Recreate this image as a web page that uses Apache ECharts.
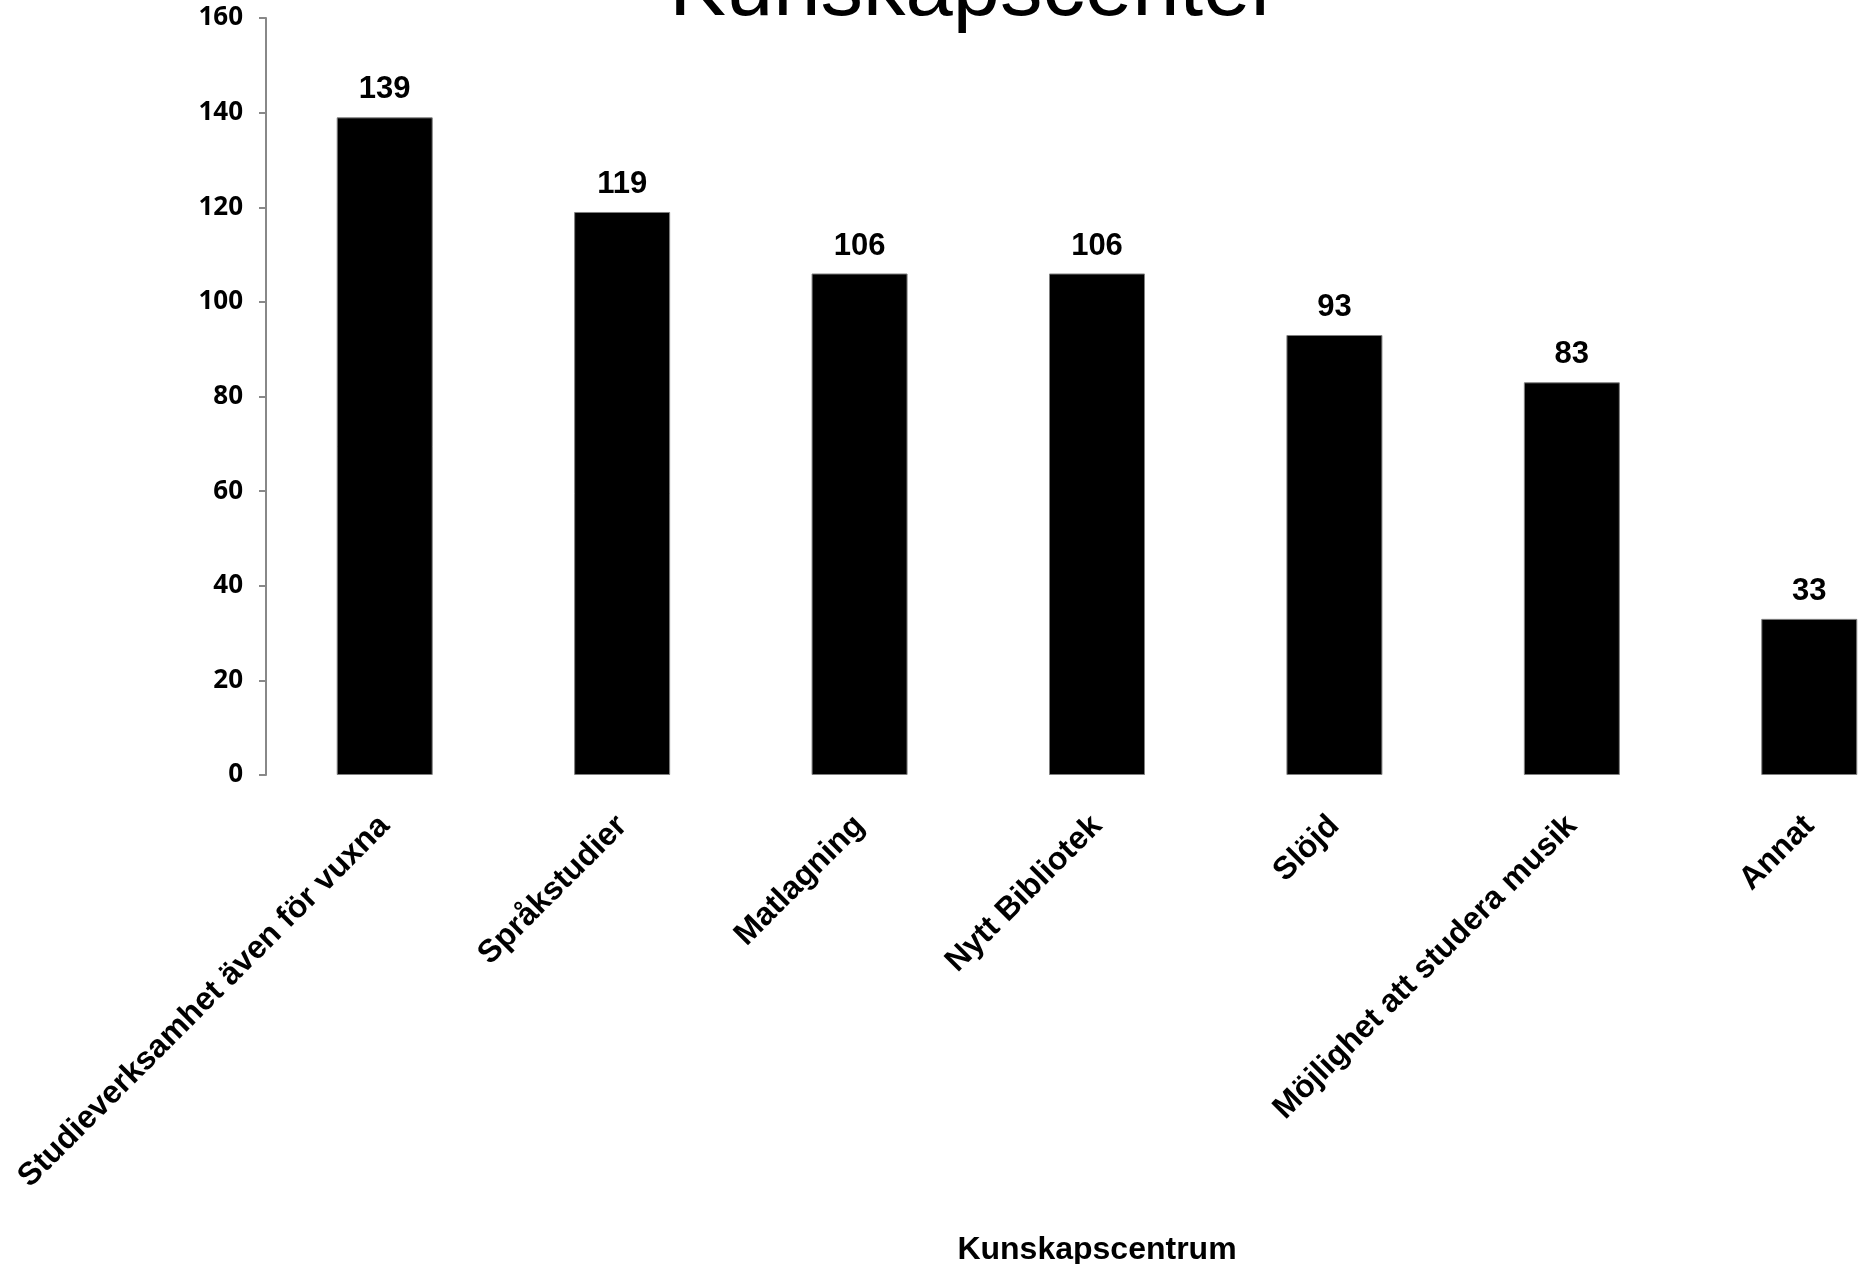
<!DOCTYPE html>
<html><head><meta charset="utf-8">
<script src="https://cdn.jsdelivr.net/npm/echarts@6/dist/echarts.min.js"></script>
<style>html,body{margin:0;padding:0;background:#fff;overflow:hidden}#c{width:1858px;height:1264px}</style>
</head><body><div id="c"></div>
<script>
const titleText = 'Kunskapscenter';
const xAxisName = 'Kunskapscentrum';
const categories = ['Studieverksamhet även för vuxna', 'Språkstudier', 'Matlagning', 'Nytt Bibliotek', 'Slöjd', 'Möjlighet att studera musik', 'Annat'];
const values = [139, 119, 106, 106, 93, 83, 33];
const yMin = 0, yMax = 160, yInterval = 20;

const chart = echarts.init(document.getElementById('c'), null, {renderer: 'canvas'});
chart.setOption({
  animation: false,
  backgroundColor: '#ffffff',
  graphic: [{
    type: 'text', x: 974, y: -8,
    style: {text: titleText, fontSize: 85, fontFamily: 'Liberation Sans, Arial', fontWeight: 'normal', fill: '#000', textAlign: 'center', textVerticalAlign: 'middle', verticalAlign: 'middle'}
  }],
  grid: {left: 266, right: -70, top: 18, bottom: 489, containLabel: false, outerBoundsMode: 'none'},
  xAxis: {
    type: 'category', data: categories,
    axisLine: {show: false}, axisTick: {show: false},
    axisLabel: {interval: 0, rotate: 45, margin: 46, fontSize: 32, fontWeight: 'bold', fontFamily: 'Liberation Sans, Arial', color: '#000'},
    name: xAxisName, nameLocation: 'middle', nameGap: 459,
    nameTextStyle: {fontSize: 32, fontWeight: 'bold', fontFamily: 'Liberation Sans, Arial', color: '#000'}
  },
  yAxis: {
    type: 'value', min: yMin, max: yMax, interval: yInterval,
    axisLine: {show: true, lineStyle: {color: '#888888', width: 2}},
    axisTick: {show: true, length: 7, lineStyle: {color: '#888888', width: 2}},
    axisLabel: {margin: 23, fontSize: 26, fontWeight: 'bold', fontFamily: 'Open Sans, Liberation Sans', color: '#000'},
    splitLine: {show: false}
  },
  series: [{
    type: 'bar', data: values, barWidth: 96,
    itemStyle: {color: '#000000', borderColor: '#808080', borderWidth: 1},
    label: {show: true, position: 'top', distance: 12, fontSize: 31, fontWeight: 'bold', fontFamily: 'Liberation Sans, Arial', color: '#000'}
  }]
});
</script>
</body></html>
